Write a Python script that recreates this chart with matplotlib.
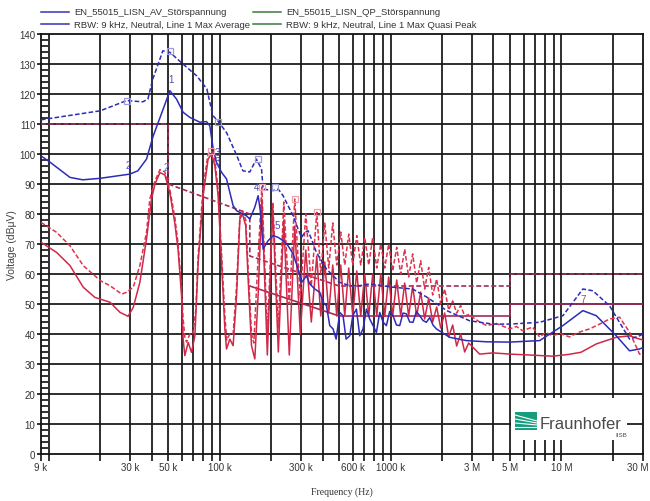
import matplotlib
matplotlib.use('Agg')
import matplotlib.pyplot as plt
from matplotlib.patches import Rectangle
from matplotlib.transforms import ScaledTranslation

plt.rcParams['font.family'] = ['Liberation Sans', 'DejaVu Sans']

# ---------------- data (frequency in kHz, level in dBuV) ----------------
blue_qp_f = [9, 13.8, 20, 28.5, 35.5, 38.0, 40.6, 46.5, 51.1, 60.9, 73.5, 84.1, 91.2, 97.7, 110, 126,
             136.7, 150, 164, 175.7, 179.5, 205, 220, 235, 251, 269, 287.5, 301, 315, 329, 344, 368,
             394, 421, 461, 504, 577, 660, 755, 1029, 1346, 1627, 2130, 2903, 3957, 4975, 7450,
             10190, 13343, 15272, 19112, 25034, 28641, 30000]
blue_qp_db = [111.4, 113, 114.4, 117.8, 117.4, 118.3, 125, 134.4, 133.9, 130, 126, 121.7, 112.8, 111,
              107, 99.4, 94.4, 94, 98.3, 95, 88.3, 87.8, 88.3, 86.1, 82.8, 79.4, 75, 72.2, 73.9, 74.4,
              71.7, 67.2, 64.4, 61.7, 59.4, 57.2, 56.1, 56.1, 56.7, 55.6, 55, 52.3, 47.8, 44.4, 43.3,
              43.3, 43.9, 46.1, 55, 54.4, 49.4, 38.3, 39.4, 40]

blue_av_f = [9, 10.2, 13.3, 15.8, 20, 29.8, 33.2, 37.3, 40.8, 46.7, 51.1, 55.9, 61.1, 66.9, 76.5, 83.7,
             87.5, 91.6, 95.8, 102.5, 109.6, 119.8, 125.5, 143.5, 150, 160.5, 167.8, 173.3, 179.5,
             192, 205.4, 219.8, 235, 251.3, 268.8, 287.5, 301, 322, 336.5, 360.1, 385,
             402.7, 421.5, 440.6, 460.7, 480, 504.3, 527, 549, 576.8, 600.6, 631, 660, 690, 722,
             755, 789.5, 826, 864, 903, 945, 988, 1033, 1082, 1131, 1182, 1238, 1294, 1353, 1416,
             1481, 1548, 1620, 1694, 1771, 1854, 2217, 2777, 3650, 4975, 7450, 10190, 13343,
             15985, 20920, 25034, 28641, 30000]
blue_av_db = [99.4, 97.2, 92.2, 91.4, 91.9, 93.3, 94.4, 98.3, 106, 115, 121.1, 118.3, 113.9, 112.2,
              110.6, 110.8, 109.4, 101.7, 97.2, 93.9, 91.7, 82.8, 81.1, 79.4, 78.3, 82.3, 86.1, 80.6,
              68.3, 71.1, 72.8, 72.2, 71.1, 69.4, 66.7, 61.7, 57.2, 59.4, 56.7, 55, 53.9,
              50.6, 49.4, 42.8, 41.7, 38.3, 47.2, 46.1, 38.3, 39.4, 46.1, 48.3, 39.4, 41.7, 48.3,
              45, 42.8, 40.5, 47.2, 44, 42.8, 47.5, 46.1, 43, 42.8, 47, 46.7, 44, 43.9, 47.5,
              46.1, 44.5, 43.9, 45.5, 43, 41.7, 38.9, 37.8, 37.4, 37.3, 37.8, 42.8, 47.8,
              46.1, 39.4, 34.4, 35, 35.5]

# red traces: low-frequency part
red_qp_head_f = [9, 11.1, 13.3, 15.9, 20, 22.8, 26.7, 28.5, 31.2, 34.1, 37.3, 39, 41.8, 44.7, 47.8,
                 51.1, 54.6, 57.1, 59.8, 61.1, 62.5, 64, 66.9, 69.7, 72.5, 74.8, 80, 85.5, 89.5, 93.7,
                 97.9, 102.5, 107.2, 110, 114.6, 119.8, 125.5, 131.2, 136, 142, 146.7, 153.5, 158.4,
                 164.2]
red_qp_head_db = [77.2, 73.9, 69.4, 62.8, 57.8, 56.1, 53.3, 53.9, 55.6, 62.8, 73.9, 85, 91, 94.8, 94,
                  88, 79, 70, 55, 45, 39, 37.3, 40, 40, 48, 66, 89, 100, 101, 98,
                  88, 67, 46, 38, 40, 40, 56, 79, 81, 78, 62, 40, 37,
                  55]
red_av_head_f = [9, 11.1, 13.3, 15.9, 18.6, 22.8, 26.1, 29.1, 31.2, 34.1, 37.3, 39.9, 41.8, 44.7, 47.8,
                 51.1, 54.6, 57.1, 59.8, 61.1, 62.5, 65.4, 68.4, 71.6, 74.8, 80, 85.5, 89.5, 93.7, 97.9,
                 102.5, 107.2, 109.6, 114.6, 119.8, 125.5, 131.2, 136, 142, 146.7, 153.5, 160.5, 167.8]
red_av_head_db = [70.6, 67.2, 62.8, 55.6, 52.2, 50.6, 47.2, 45.9, 48.9, 57.2, 71.7, 85, 90, 93.8, 93,
                  87, 77, 68, 52.8, 38.3, 32.8, 37.2, 33.9, 39.4, 63.9, 86.1, 98.3, 100, 96.1, 86.1,
                  63.9, 41.7, 35, 38.3, 36.1, 52.8, 78.3, 80, 76.1, 58.3, 36.1, 31.7, 52.8]

# ripple region (peaks and troughs), 150 kHz .. 3 MHz
ripple_peak_f = [176.4, 204.5, 237.2, 275, 318.9, 369.8, 412, 458.7, 510.9, 569, 633.9, 706, 786,
                 875.8, 975, 1086, 1209, 1347, 1500, 1671, 1861, 2073, 2309, 2571, 2863]
ripple_trough_f = [190, 220.3, 255.4, 296.1, 343.5, 390.3, 434.7, 484.2, 539.3, 600.6, 668.8, 745,
                   829.7, 924.2, 1029, 1146, 1276, 1421, 1583, 1764, 1964, 2188, 2436, 2714]
red_qp_peak = [89, 84, 84, 85, 80, 80.6, 77, 77, 74, 73.3, 72.8, 72.2, 72.2, 70, 70, 68.9, 68.3,
               66.7, 64.4, 62.2, 58.3, 55, 51, 49.5, 46.5]
red_qp_trough = [40, 42, 50, 52, 56, 60, 62, 63, 63, 63, 63, 63, 62, 62, 61, 60, 59, 57, 55, 53, 50,
                 48, 47, 46]
red_av_peak = [85, 82, 78, 76, 68, 66, 64, 63, 63, 62, 61, 60, 60, 60, 59, 58, 57, 56, 54, 52, 49,
               47, 43, 40, 37]
red_av_trough = [33, 34, 33, 40, 44, 46, 47, 46, 46, 46, 46, 46, 46, 46, 46, 46, 46, 46, 45, 44, 42,
                 39, 36, 34]

red_qp_tail_f = [3321, 3650, 4159, 4975, 5450, 5925, 6400, 6780, 7450, 8100, 8873, 9800, 11155,
                 12500, 14603, 17000, 19112, 21877, 25034, 28641, 30000]
red_qp_tail_db = [44, 42.8, 43.5, 41.7, 42.5, 41.1, 41.8, 42.3, 39, 40.5, 39.4, 40.2, 39, 40.5,
                  41.7, 43.5, 45, 45.6, 40.6, 33.3, 33]
red_av_tail_f = [3321, 3980, 4975, 6500, 8873, 11000, 13000, 16000, 20920, 25034, 28641, 30000]
red_av_tail_db = [33.3, 33.7, 33.3, 33, 32.6, 33.2, 33.9, 36.7, 38.9, 39.4, 38.3, 38]

# EN 55015 limit lines
lim_qp_f = [9, 50, 50, 150, 150, 500, 5000, 5000, 30000]
lim_qp_db = [110, 110, 90, 80, 66, 56, 56, 60, 60]
lim_av_f = [150, 500, 5000, 5000, 30000]
lim_av_db = [56, 46, 46, 50, 50]

# marker labels
marker_txt = ['1', '2', '2', '3', '3', '4', '5', '7']
marker_f = [51.8, 29, 48.4, 97.5, 97.0, 164, 216, 13343]
marker_db = [125, 96.3, 95.7, 100.5, 97.5, 89, 76.3, 51.7]
marker_col = ['#4a4ac0', '#4a4ac0', '#6a6ad0', '#4a4ac0', '#4a4ac0', '#4a4ac0', '#4a4ac0', '#c04060']

box_f = [28.5, 51.1, 97.9, 167.8, 210, 89.5, 176.4, 275, 369.8]
box_db = [117.6, 134.2, 110.8, 98.3, 88.9, 101, 89, 85, 80.6]
box_col = ['#9c9cdc'] * 5 + ['#f0a0b0'] * 4

grid_f = [10, 20, 30, 40, 50, 60, 70, 80, 90, 100, 200, 300, 400, 500, 600, 700, 800, 900,
          1000, 2000, 3000, 4000, 5000, 6000, 7000, 8000, 9000, 10000, 20000]
tick_f = [9, 30, 50, 100, 300, 600, 1000, 3000, 5000, 10000, 30000]
tick_lbl = ['9 k', '30 k', '50 k', '100 k', '300 k', '600 k', '1000 k', '3 M', '5 M', '10 M', '30 M']

legend_lbl = ['EN_55015_LISN_AV_Störspannung', 'EN_55015_LISN_QP_Störspannung',
              'RBW: 9 kHz, Neutral, Line 1 Max Average', 'RBW: 9 kHz, Neutral, Line 1 Max Quasi Peak']


def ripple(head_f, head_v, pf, pv, tf, tv, tail_f, tail_v):
    f, v = list(head_f), list(head_v)
    for i in range(len(pf)):
        f.append(pf[i]); v.append(pv[i])
        if i < len(tf):
            f.append(tf[i]); v.append(tv[i])
    f += list(tail_f); v += list(tail_v)
    return [x * 1e3 for x in f], v


def hz(lst):
    return [x * 1e3 for x in lst]


# ---------------- figure ----------------
W, H = 650, 502
fig = plt.figure(figsize=(W / 100, H / 100), dpi=100)
x0, x1, y0, y1 = 41, 643, 35, 455
ax = fig.add_axes([x0 / W, 1 - y1 / H, (x1 - x0) / W, (y1 - y0) / H])
ax.set_xscale('log')
ax.set_xlim(9e3, 3e7)
ax.set_ylim(0, 140)

for g in grid_f:
    ax.axvline(g * 1e3, color='#151515', lw=1.25, zorder=1)
for yv in range(10, 140, 10):
    ax.axhline(yv, color='#151515', lw=1.25, zorder=1)

RED = '#e0324e'
RED2 = '#d02848'
BLUE = '#2c2cb8'
LIM = '#a02c5c'

ax.plot(hz(lim_qp_f), lim_qp_db, color=LIM, lw=1.2, ls=(0, (3, 1.5)), zorder=3)
ax.plot(hz(lim_av_f), lim_av_db, color=LIM, lw=1.2, zorder=3)

rf, rv = ripple(red_qp_head_f, red_qp_head_db, ripple_peak_f, red_qp_peak,
                ripple_trough_f, red_qp_trough, red_qp_tail_f, red_qp_tail_db)
ax.plot(rf, rv, color=RED, lw=1.1, ls=(0, (3, 1.5)), zorder=4)
rf, rv = ripple(red_av_head_f, red_av_head_db, ripple_peak_f, red_av_peak,
                ripple_trough_f, red_av_trough, red_av_tail_f, red_av_tail_db)
ax.plot(rf, rv, color=RED2, lw=1.1, zorder=4)

ax.plot(hz(blue_qp_f), blue_qp_db, color=BLUE, lw=1.1, ls=(0, (3, 1.5)), zorder=5)
ax.plot(hz(blue_av_f), blue_av_db, color=BLUE, lw=1.1, zorder=5)

for t, f, d, c in zip(marker_txt, marker_f, marker_db, marker_col):
    ax.text(f * 1e3, d, t, color=c, fontsize=7, ha='center', va='center', zorder=6)
for f, d, c in zip(box_f, box_db, box_col):
    ax.plot([f * 1e3], [d], marker='s', ms=5, mfc='none', mec=c, mew=0.9, zorder=6)

# axes styling
for s in ax.spines.values():
    s.set_color('#111111')
    s.set_linewidth(1.3)
ax.set_xticks(hz(tick_f))
ax.set_xticklabels(tick_lbl)
ax.set_xticks(hz(grid_f), minor=True)
ax.xaxis.set_minor_formatter(matplotlib.ticker.NullFormatter())
ax.tick_params(axis='x', which='both', direction='out', length=5, width=1.2, color='#111111',
               labelsize=7, labelcolor='#333333', pad=1)
ax.set_yticks(range(0, 141, 10))
ax.set_yticks(range(0, 141, 2), minor=True)
ax.tick_params(axis='y', which='major', direction='out', length=3, width=1.2, color='#111111',
               labelsize=7, labelcolor='#333333', pad=1)
ax.tick_params(axis='y', which='minor', direction='in', length=5, width=1.2, color='#111111')

# keep the last tick label inside the canvas
last = ax.get_xticklabels()[-1]
last.set_horizontalalignment('right')
last.set_transform(last.get_transform() + ScaledTranslation(6 / 100, 0, fig.dpi_scale_trans))

fig.text(12 / W, 1 - 245 / H, 'Voltage (dBμV)', rotation=90, ha='center', va='center',
         fontsize=7.5, color='#444444')
fig.text(342 / W, 1 - 492 / H, 'Frequency (Hz)', ha='center', va='center', fontsize=7,
         color='#333333', family=['Liberation Serif', 'DejaVu Serif'])

# legend (manual)
leg_col = ['#3434b0', '#3c7a3c', '#3434b0', '#3c7a3c']
leg_x = [41, 253, 41, 253]
leg_y = [12.5, 12.5, 25, 25]
for lbl, c, lx, ly in zip(legend_lbl, leg_col, leg_x, leg_y):
    fig.add_artist(plt.Line2D([lx / W, (lx + 28) / W], [1 - ly / H, 1 - ly / H], color=c, lw=1.1))
    fig.text((lx + 33) / W, 1 - ly / H, lbl, fontsize=6.8, color='#333333', va='center', ha='left')

# Fraunhofer logo
fig.add_artist(Rectangle((511 / W, 1 - 441 / H), 116 / W, 42 / H, facecolor='white',
                         edgecolor='none', zorder=10))
fig.add_artist(Rectangle((515 / W, 1 - 431 / H), 22 / W, 18 / H, facecolor='#179c7d',
                         edgecolor='none', zorder=11))
for k in range(4):
    yy = 1 - (416 + k * 4) / H
    fig.add_artist(plt.Line2D([515 / W, 537 / W], [yy, yy - (3 - k) * 2 / H], color='white',
                              lw=0.8, zorder=12))
fig.text(540 / W, 1 - 424.5 / H, 'Fraunhofer', fontsize=12, color='#4a4a4a', va='center',
         ha='left', zorder=12)
fig.text(627 / W, 1 - 436 / H, 'IISB', fontsize=4.5, color='#4a4a4a', va='center', ha='right',
         zorder=12)

fig.savefig('out.png', dpi=100)
